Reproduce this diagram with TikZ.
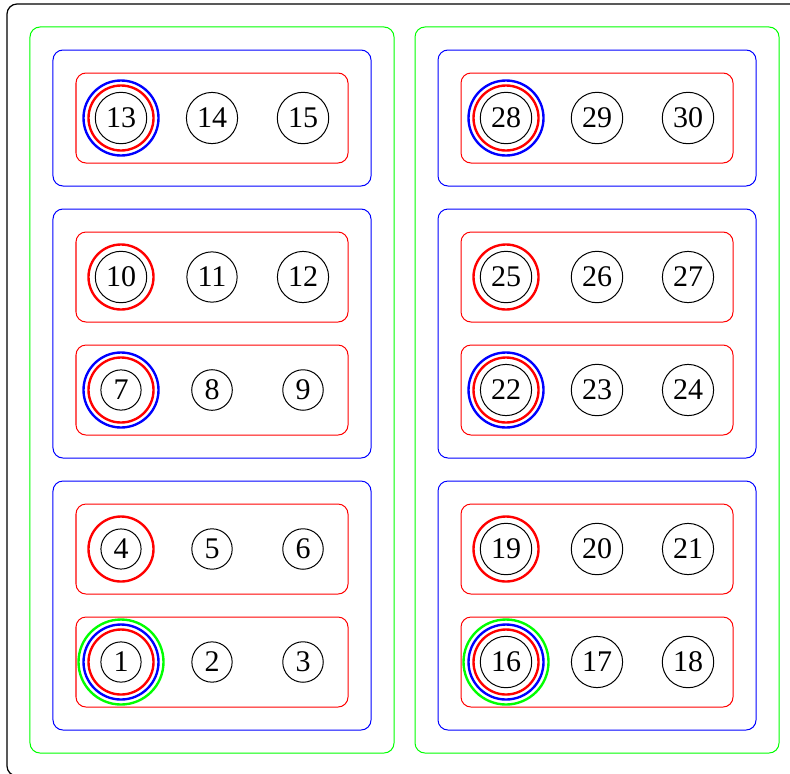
\documentclass[tikz,border=0pt]{standalone}
\usepackage{fontspec}
\setmainfont{Liberation Serif}
\usetikzlibrary{fit,positioning}
\begin{document}
\begin{tikzpicture}[
    x=0.4pt, y=-0.4pt,
    num/.style={draw, circle, inner sep=2.2pt, font=\large, line width=0.4pt},
    ring/.style={draw=#1, circle, line width=0.95pt, inner sep=0pt},
    redbox/.style={draw=red, rounded corners=4pt, line width=0.4pt,
                   minimum width=108.8pt, minimum height=36pt},
    blockbox/.style={draw=#1, rounded corners=4pt, inner sep=9pt, line width=0.4pt},
]
\useasboundingbox (0,0) rectangle (790,773);

% rows of numbered nodes with their red boxes
\foreach \g/\gx in {0/212, 1/597} {
  \foreach \r/\ry in {0/662, 1/549, 2/390, 3/277, 4/118} {
    \node[redbox] (b\g\r) at (\gx,\ry) {};
    \foreach \c in {0,1,2} {
      \pgfmathtruncatemacro\n{15*\g+3*\r+\c+1}
      \node[num] (n\n) at (\gx-91+91*\c,\ry) {\n};
    }
  }
}

% rings round the first node of each box
\foreach \n in {1,4,7,10,13,16,19,22,25,28}
  \node[ring=red, minimum size=26pt] (rr\n) at (n\n) {};
\foreach \n in {1,7,13,16,22,28}
  \node[ring=blue, minimum size=30pt] (br\n) at (n\n) {};
\foreach \n in {1,16}
  \node[ring=green, minimum size=34pt] (gr\n) at (n\n) {};

% nested boxes
\foreach \g in {0,1} {
  \node[blockbox=blue, fit=(b\g0)(b\g1)] (low\g) {};
  \node[blockbox=blue, fit=(b\g2)(b\g3)] (mid\g) {};
  \node[blockbox=blue, fit=(b\g4)] (top\g) {};
  \node[blockbox=green, fit=(low\g)(top\g)] (grp\g) {};
}
\node[blockbox=black, line width=0.5pt, fit=(grp0)(grp1)] (all) {};
\end{tikzpicture}
\end{document}
